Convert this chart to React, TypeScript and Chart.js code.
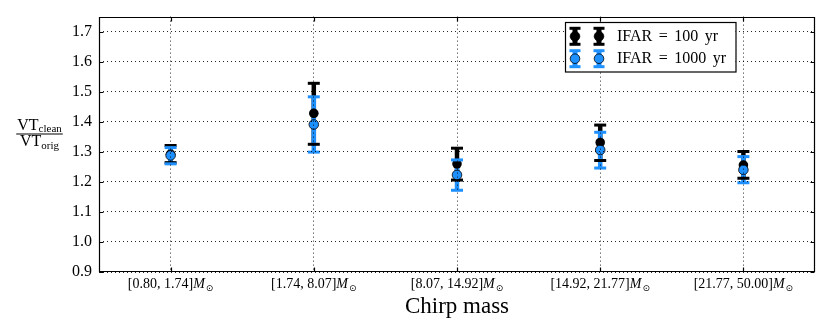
import React, { useEffect, useRef } from "react";
import { Chart, registerables } from "chart.js";

Chart.register(...registerables);

// ---- data ----
const CATEGORIES = ["[0.80, 1.74]", "[1.74, 8.07]", "[8.07, 14.92]", "[14.92, 21.77]", "[21.77, 50.00]"];
const UNIT_MAIN = "M";
const UNIT_SUB = "\u2299";
const X_TITLE = "Chirp mass";
const Y_NUM = ["VT", "clean"];
const Y_DEN = ["VT", "orig"];
const Y_TICKS = [0.9, 1.0, 1.1, 1.2, 1.3, 1.4, 1.5, 1.6, 1.7];
const Y_MIN = 0.9;
const Y_MAX = 1.75;

const SERIES_LABELS = ["IFAR = 100 yr", "IFAR = 1000 yr"];
const IFAR100_MEAN = [1.292, 1.428, 1.26, 1.331, 1.256];
const IFAR100_LOW = [1.264, 1.325, 1.206, 1.271, 1.212];
const IFAR100_HIGH = [1.321, 1.528, 1.312, 1.389, 1.301];
const IFAR1000_MEAN = [1.288, 1.391, 1.223, 1.306, 1.24];
const IFAR1000_LOW = [1.26, 1.299, 1.172, 1.246, 1.197];
const IFAR1000_HIGH = [1.314, 1.483, 1.273, 1.365, 1.284];

// ---- styles ----
const SERIF = '"Liberation Serif", "DejaVu Serif", serif';
const BLACK = "#000000";
const BLUE = "#1E90FF";
const BAR_W = 4.5;
const CAP_HALF = 6;
const CAP_W = 3;
const GRID_COLOR = "rgba(0,0,0,0.85)";

const SERIES = [
  { label: SERIES_LABELS[0], color: BLACK, mean: IFAR100_MEAN, low: IFAR100_LOW, high: IFAR100_HIGH, fill: BLACK },
  { label: SERIES_LABELS[1], color: BLUE, mean: IFAR1000_MEAN, low: IFAR1000_LOW, high: IFAR1000_HIGH, fill: BLUE },
];

function drawCap(ctx: CanvasRenderingContext2D, px: number, py: number, color: string, half = CAP_HALF) {
  ctx.save();
  ctx.setLineDash([]);
  ctx.strokeStyle = color;
  ctx.lineWidth = CAP_W;
  ctx.beginPath();
  ctx.moveTo(px - half, py);
  ctx.lineTo(px + half, py);
  ctx.stroke();
  ctx.restore();
}

const errorPlugin = {
  id: "errbars",
  beforeDatasetsDraw(chart: any) {
    const ctx = chart.ctx as CanvasRenderingContext2D;
    const xs = chart.scales.x;
    const ys = chart.scales.y;
    SERIES.forEach((s) => {
      ctx.save();
      ctx.setLineDash([]);
      ctx.strokeStyle = s.color;
      ctx.lineWidth = BAR_W;
      s.low.forEach((lo, i) => {
        const px = xs.getPixelForValue(i + 0.5);
        ctx.beginPath();
        ctx.moveTo(px, ys.getPixelForValue(lo));
        ctx.lineTo(px, ys.getPixelForValue(s.high[i]));
        ctx.stroke();
      });
      ctx.restore();
    });
  },
  afterDatasetDraw(chart: any, args: any) {
    const s = SERIES[args.index];
    if (!s) return;
    const ctx = chart.ctx as CanvasRenderingContext2D;
    const xs = chart.scales.x;
    const ys = chart.scales.y;
    s.low.forEach((lo, i) => {
      const px = xs.getPixelForValue(i + 0.5);
      drawCap(ctx, px, ys.getPixelForValue(lo), s.color);
      drawCap(ctx, px, ys.getPixelForValue(s.high[i]), s.color);
    });
  },
  afterDraw(chart: any) {
    const ctx = chart.ctx as CanvasRenderingContext2D;
    const xs = chart.scales.x;
    const ys = chart.scales.y;
    const a = chart.chartArea;
    ctx.save();
    ctx.setLineDash([]);
    // frame
    ctx.strokeStyle = BLACK;
    ctx.lineWidth = 1.2;
    const L = Math.round(a.left) + 0.5;
    const R = Math.round(a.right) - 0.5;
    const T = Math.round(a.top) + 0.5;
    const B = Math.round(a.bottom) - 0.5;
    ctx.beginPath();
    ctx.moveTo(L, T);
    ctx.lineTo(R, T);
    ctx.lineTo(R, B);
    ctx.lineTo(L, B);
    ctx.closePath();
    // inward ticks
    Y_TICKS.forEach((v) => {
      const py = Math.round(ys.getPixelForValue(v)) + 0.5;
      ctx.moveTo(L, py);
      ctx.lineTo(L + 4, py);
      ctx.moveTo(R, py);
      ctx.lineTo(R - 4, py);
    });
    CATEGORIES.forEach((_, i) => {
      const px = Math.round(xs.getPixelForValue(i + 0.5)) + 0.5;
      ctx.moveTo(px, T);
      ctx.lineTo(px, T + 4);
      ctx.moveTo(px, B);
      ctx.lineTo(px, B - 4);
    });
    ctx.stroke();

    // x tick labels
    ctx.fillStyle = BLACK;
    ctx.textBaseline = "alphabetic";
    ctx.textAlign = "left";
    const mainFont = `14px ${SERIF}`;
    const itFont = `italic 14px ${SERIF}`;
    const subFont = `9px "DejaVu Sans", sans-serif`;
    CATEGORIES.forEach((lab, i) => {
      ctx.font = mainFont;
      const w1 = ctx.measureText(lab).width;
      ctx.font = itFont;
      const w2 = ctx.measureText(UNIT_MAIN).width + 1;
      ctx.font = subFont;
      const w3 = ctx.measureText(UNIT_SUB).width;
      const px = xs.getPixelForValue(i + 0.5);
      let x0 = px - (w1 + w2 + w3) / 2;
      const base = 287.5;
      ctx.font = mainFont;
      ctx.fillText(lab, x0, base);
      x0 += w1;
      ctx.font = itFont;
      ctx.fillText(UNIT_MAIN, x0, base);
      x0 += w2;
      ctx.font = subFont;
      ctx.fillText(UNIT_SUB, x0, base + 3);
    });

    // x title
    ctx.font = `23px ${SERIF}`;
    ctx.textAlign = "center";
    ctx.fillText(X_TITLE, (a.left + a.right) / 2, 313);

    // y title (fraction)
    const fracCx = 39.5;
    const bigFont = `16px ${SERIF}`;
    const smallFont = `11px ${SERIF}`;
    const drawPart = (parts: string[], base: number) => {
      ctx.font = bigFont;
      const wa = ctx.measureText(parts[0]).width;
      ctx.font = smallFont;
      const wb = ctx.measureText(parts[1]).width;
      const x0 = fracCx - (wa + wb) / 2;
      ctx.textAlign = "left";
      ctx.font = bigFont;
      ctx.fillText(parts[0], x0, base);
      ctx.font = smallFont;
      ctx.fillText(parts[1], x0 + wa, base + 2.5);
      return wa + wb;
    };
    const wn = drawPart(Y_NUM, 129.5);
    const wd = drawPart(Y_DEN, 146);
    const wl = Math.max(wn, wd) + 2;
    ctx.fillRect(fracCx - wl / 2, 133.5, wl, 1);

    // legend
    const lx = 565;
    const ly = 22;
    const lw = 170.5;
    const lh = 49.5;
    ctx.fillStyle = "#ffffff";
    ctx.fillRect(lx, ly, lw, lh);
    ctx.strokeStyle = BLACK;
    ctx.lineWidth = 1.2;
    ctx.strokeRect(lx + 0.5, ly + 0.5, lw, lh);
    const rows = [ly + 14.3, ly + 36.7];
    const baselines = [41.3, 63];
    SERIES.forEach((s, k) => {
      const ry = rows[k];
      [lx + 10, lx + 34].forEach((sx) => {
        ctx.save();
        ctx.strokeStyle = s.color;
        ctx.lineWidth = BAR_W + 0.5;
        ctx.beginPath();
        ctx.moveTo(sx, ry - 8);
        ctx.lineTo(sx, ry + 8);
        ctx.stroke();
        ctx.restore();
        drawCap(ctx, sx, ry - 8, s.color, 5.5);
        drawCap(ctx, sx, ry + 8, s.color, 5.5);
        ctx.beginPath();
        ctx.arc(sx, ry, 4.8, 0, Math.PI * 2);
        ctx.fillStyle = s.fill;
        ctx.fill();
        ctx.lineWidth = 0.8;
        ctx.strokeStyle = BLACK;
        ctx.stroke();
      });
      ctx.fillStyle = BLACK;
      ctx.font = `16px ${SERIF}`;
      ctx.textAlign = "left";
      ctx.textBaseline = "alphabetic";
      let tx = lx + 52;
      s.label.split(" ").forEach((word) => {
        ctx.fillText(word, tx, baselines[k]);
        tx += ctx.measureText(word).width + 6.5;
      });
    });
    ctx.restore();
  },
};

export default function App() {
  const ref = useRef<HTMLCanvasElement | null>(null);
  useEffect(() => {
    if (!ref.current) return;
    const chart = new Chart(ref.current, {
      type: "scatter",
      data: {
        datasets: SERIES.map((s, k) => ({
          label: s.label,
          data: s.mean.map((v, i) => ({ x: i + 0.5, y: v })),
          backgroundColor: s.fill,
          borderColor: BLACK,
          borderWidth: k === 0 ? 0 : 0.8,
          pointRadius: 4.8,
          pointHoverRadius: 4.8,
          order: 2 - k,
          clip: false as any,
        })),
      },
      options: {
        responsive: false,
        animation: false,
        events: [],
        layout: { padding: { top: 15, right: 15, left: 0, bottom: 0 } },
        plugins: { legend: { display: false }, tooltip: { enabled: false } },
        scales: {
          x: {
            type: "linear",
            min: 0,
            max: 5,
            afterBuildTicks: (s: any) => {
              s.ticks = CATEGORIES.map((_, i) => ({ value: i + 0.5 }));
            },
            afterFit: (s: any) => {
              s.height = 60;
            },
            ticks: { display: false },
            grid: { z: 1, color: GRID_COLOR, lineWidth: 1, drawTicks: false },
            border: { display: false, dash: [1, 3] },
          },
          y: {
            type: "linear",
            min: Y_MIN,
            max: Y_MAX,
            afterBuildTicks: (s: any) => {
              s.ticks = Y_TICKS.map((v) => ({ value: v }));
            },
            afterFit: (s: any) => {
              s.width = 99;
            },
            ticks: {
              color: BLACK,
              padding: 7,
              font: { family: SERIF, size: 16 },
              callback: (v: any) => Number(v).toFixed(1),
            },
            grid: { z: 1, color: GRID_COLOR, lineWidth: 1, drawTicks: false },
            border: { display: false, dash: [1, 3] },
          },
        },
      },
      plugins: [errorPlugin],
    });
    return () => chart.destroy();
  }, []);
  return (
    <div style={{ position: "absolute", left: 0, top: 0, width: 830, height: 332, background: "#fff" }}>
      <canvas ref={ref} width={830} height={332} style={{ width: 830, height: 332, display: "block" }} />
    </div>
  );
}
